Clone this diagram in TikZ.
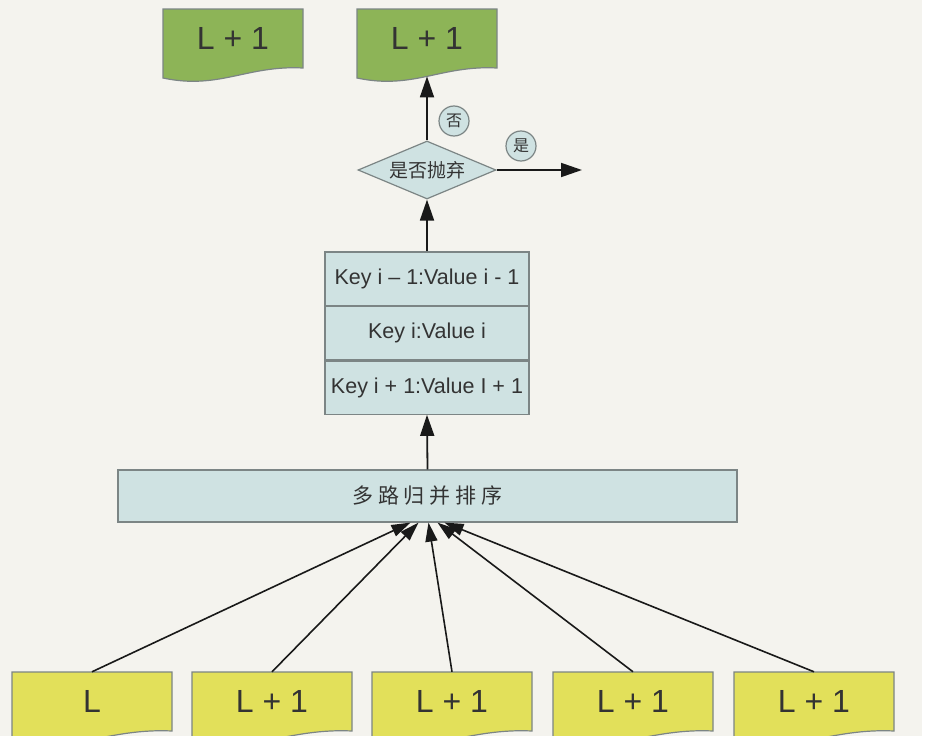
\documentclass[tikz,border=0pt]{standalone}
\usepackage{fontspec}
\setmainfont{Liberation Sans}
\newfontfamily\cjk{Noto Sans CJK SC}
\usetikzlibrary{shapes.geometric,arrows.meta}
\definecolor{bgc}{HTML}{F4F3EE}
\definecolor{greenf}{HTML}{8DB457}
\definecolor{yellowf}{HTML}{E2E05A}
\definecolor{bluef}{HTML}{CFE2E2}
\definecolor{borderc}{HTML}{7C8585}
\definecolor{txtc}{HTML}{333333}
\newcommand{\docbox}[7]{%
  \path[fill=#6, draw=borderc, line width=1.2pt]
    (#2,#3) -- ({#2+#4},#3) -- ({#2+#4},{#3+59})
    .. controls ({#2+0.6*#4},{#3+56}) and ({#2+0.4*#4},{#3+81}) .. (#2,{#3+69}) -- cycle;
  \node[doctext, minimum width={#4*1pt}, minimum height={2*(#5-#3)*1pt}] (#1) at ({#2+#4/2},#5) {#7};
  \coordinate (#1-bot) at ({#2+#4/2},{#3+67.4});
}
\tikzset{
  doctext/.style={inner sep=0pt, text=txtc, font=\fontsize{32}{32}\selectfont},
  bluebox/.style={draw=borderc, fill=bluef, line width=1.2pt, inner sep=0pt, text=txtc},
  keyrow/.style={bluebox, minimum width=204pt, minimum height=53.3pt, font=\fontsize{21.5}{21.5}\selectfont},
  badge/.style={circle, bluebox, minimum size=30pt, font=\cjk\fontsize{16}{16}\selectfont},
  arr/.style={-{Triangle[length=21pt,width=14pt]}, line width=1.8pt, draw=black!90, fill=black},
  arrs/.style={-{Triangle[length=19pt,width=12pt]}, line width=1.6pt, draw=black!90, fill=black}
}
\begin{document}
\begin{tikzpicture}[x=1pt,y=-1pt]
\useasboundingbox (0,0) rectangle (930,736);
\clip (0,0) rectangle (930,736);
\fill[white] (0,0) rectangle (930,736);
\fill[bgc] (0,0) rectangle (922,736);

% top green documents
\docbox{g1}{163}{9}{140}{38}{greenf}{L + 1}
\docbox{g2}{357}{9}{140}{38}{greenf}{L + 1}

% decision
\node[diamond, bluebox, minimum width=138pt, minimum height=58pt, aspect=2.4,
      font=\cjk\fontsize{19}{19}\selectfont] (dia) at (427,170) {是否抛弃};
\node[badge] (no) at (454,121) {否};
\node[badge] (yes) at (521,146) {是};
\coordinate (out) at (582,170);

% key rows
\node[keyrow] (k1) at (427,278.6) {Key i – 1:Value i - 1};
\node[keyrow, anchor=north] (k2) at (k1.south) {Key i:Value i};
\node[keyrow, anchor=north] (k3) at (k2.south) {Key i + 1:Value I + 1};

% merge sort
\node[bluebox, minimum width=619pt, minimum height=52pt,
      font=\cjk\fontsize{21}{21}\selectfont] (merge) at (427.5,496)
      {多\hspace{5pt}路\hspace{5pt}归\hspace{5pt}并\hspace{5pt}排\hspace{5pt}序};

% bottom yellow documents
\docbox{y1}{12}{672}{160}{701}{yellowf}{L}
\docbox{y2}{192}{672}{160}{701}{yellowf}{L + 1}
\docbox{y3}{372}{672}{160}{701}{yellowf}{L + 1}
\docbox{y4}{553}{672}{160}{701}{yellowf}{L + 1}
\docbox{y5}{734}{672}{160}{701}{yellowf}{L + 1}

% connectors
\draw[arr] (dia.north) -- (g2-bot);
\draw[arr] (dia.east) -- (out);
\draw[arr] (k1.north) -- (dia.south);
\draw[arr] (merge.north) -- (k3.south);
\draw[arrs] (y1.north) -- ([xshift=-17pt]merge.south);
\draw[arrs] (y2.north) -- ([xshift=-9pt]merge.south);
\draw[arrs] (y3.north) -- ([xshift=1pt]merge.south);
\draw[arrs] (y4.north) -- ([xshift=10pt]merge.south);
\draw[arrs] (y5.north) -- ([xshift=17pt]merge.south);
\end{tikzpicture}
\end{document}
